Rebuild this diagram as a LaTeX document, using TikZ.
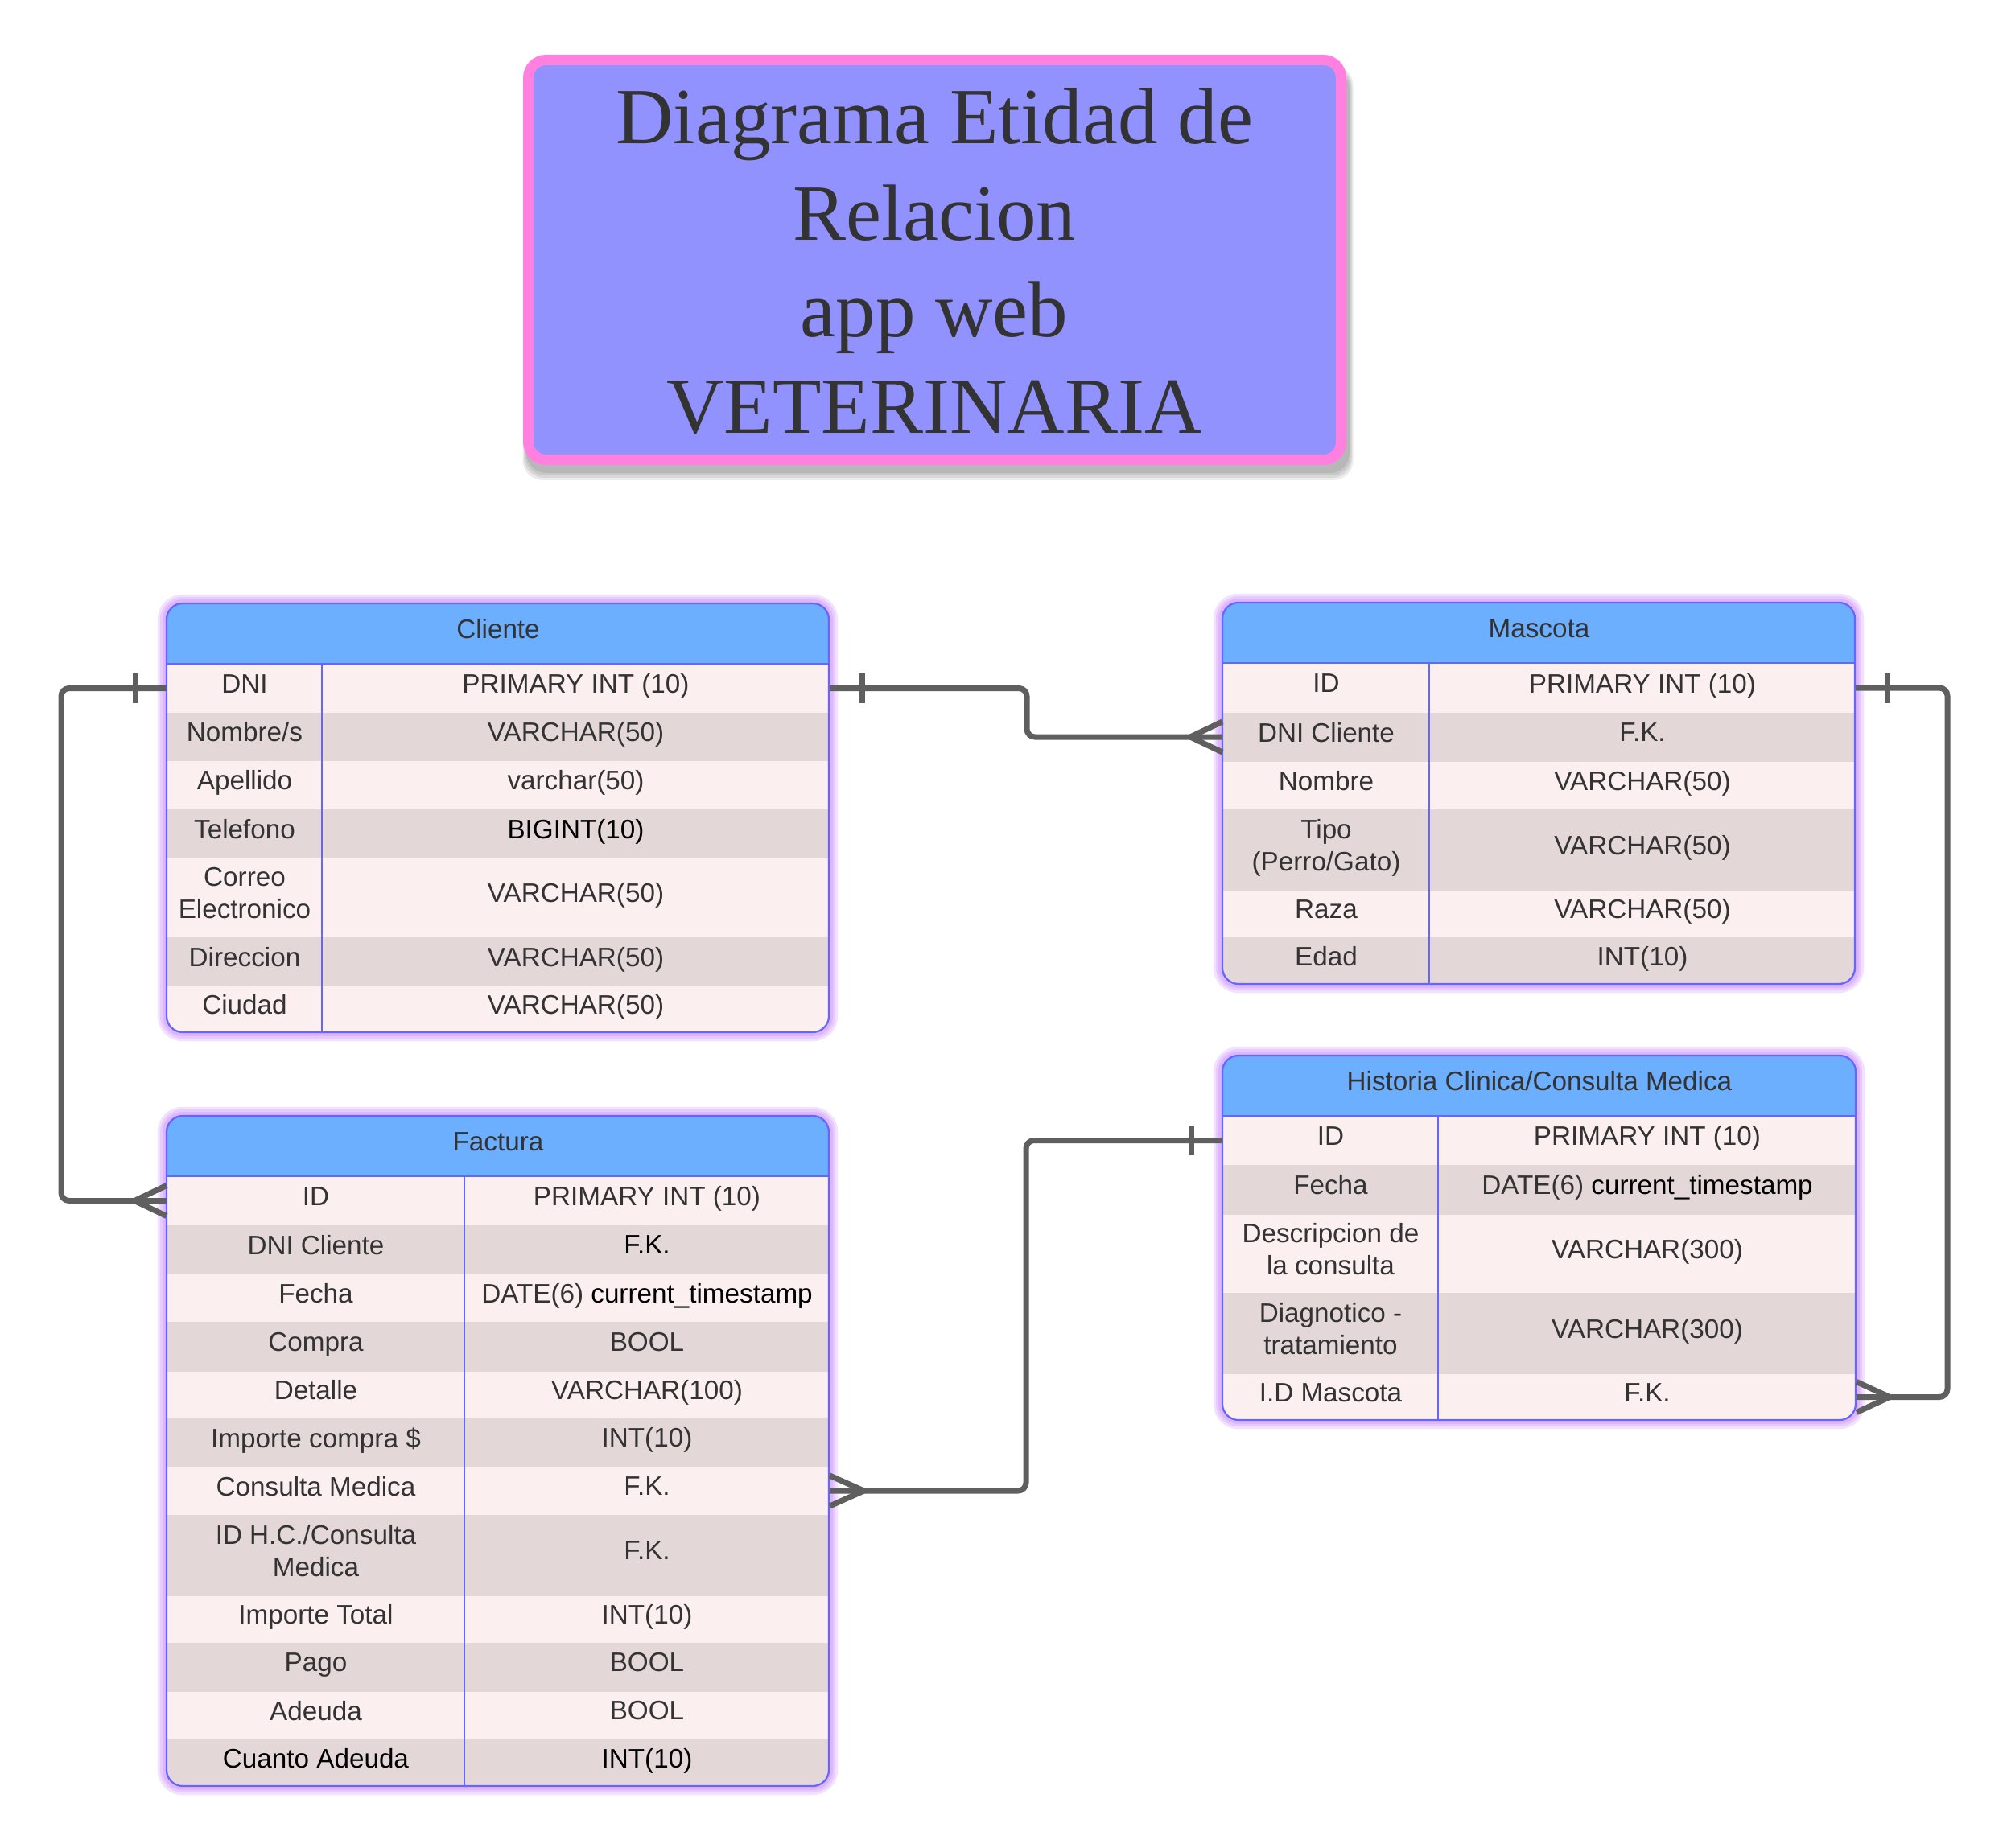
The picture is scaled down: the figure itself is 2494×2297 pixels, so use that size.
\documentclass[tikz,border=0pt]{standalone}
\usepackage{fontspec}
\setmainfont{Liberation Sans}
\newfontfamily\titlefont{Liberation Serif}
\definecolor{hdrblue}{HTML}{6CAFFF}
\definecolor{rowA}{HTML}{FCEFEF}
\definecolor{rowB}{HTML}{E4D7D7}
\definecolor{edgec}{HTML}{6666FF}
\definecolor{glowc}{HTML}{B050FF}
\definecolor{lnk}{HTML}{5F5F5F}
\definecolor{txt}{HTML}{333333}
\definecolor{titlefill}{HTML}{9292FF}
\definecolor{titleedge}{HTML}{FF80DF}
\newcommand{\ertrow}[9]{%
  \node[cell, fill=#7, minimum width={(#3-#2)*0.4pt}, minimum height={(#6-#5)*0.4pt}] (#1L) at (#2,#5) {#8};
  \node[cell, fill=#7, minimum width={(#4-#3)*0.4pt}, minimum height={(#6-#5)*0.4pt}] (#1R) at (#3,#5) {#9};}
\newcommand{\ertglow}[4]{%
  \foreach \w in {9,6.5,4}
    \draw[draw=glowc, opacity=0.16, line width=\w pt, rounded corners=8pt] (#1,#2) rectangle (#3,#4);}
\newcommand{\ertframe}[6]{% xL yT xR yB xC yH
  \draw[tabline] (#5,#6) -- (#5,#4);
  \draw[tabline] (#1,#6) -- (#3,#6);
  \draw[tabline, rounded corners=8pt] (#1,#2) rectangle (#3,#4);}
\newcommand{\crowfoot}[2]{%
  \draw[conn] ([xshift=#2]#1) -- ([yshift=7.6pt]#1)
              ([xshift=#2]#1) -- ([yshift=-7.6pt]#1);}
\newcommand{\onetick}[2]{%
  \draw[conn] ([xshift=#2, yshift=7.4pt]#1) -- ([xshift=#2, yshift=-7.4pt]#1);}
\begin{document}
\begin{tikzpicture}[x=0.4pt, y=-0.4pt,
  cell/.style={anchor=north west, inner sep=0pt, draw=none, align=center, text=txt,
    text depth=4.6pt, font=\fontsize{13.3pt}{16pt}\selectfont},
  hdr/.style={anchor=north west, inner sep=0pt, draw=none, fill=hdrblue, text=txt,
    text depth=5pt, font=\fontsize{13.3pt}{16pt}\selectfont},
  tabline/.style={draw=edgec, line width=0.9pt},
  conn/.style={draw=lnk, line width=2.8pt, rounded corners=4pt},
  titlebox/.style={draw=titleedge, fill=titlefill, line width=5.2pt, rounded corners=8.8pt}]

\useasboundingbox[fill=white] (0,0) rectangle (2494,2297);

% ---------- title ----------
\foreach \g in {0,3,6,9}
  \fill[black, opacity=0.08, rounded corners=10pt] (650+4-\g*0.5,68+18-\g*0.5) rectangle (1673+4+\g*0.5,578+10+\g);
\node[titlebox, minimum width={1010*0.4pt}, minimum height={497*0.4pt}, inner sep=0pt] (titlebg) at (1161.5,323) {};
\node[text=txt, align=center, inner sep=0pt, font=\titlefont\fontsize{39.6pt}{48pt}\selectfont] (title) at (1161,325)
  {Diagrama Etidad de\\Relacion\\app web\\VETERINARIA};

% ---------- Cliente ----------
\ertglow{207}{750}{1030}{1283}
\begin{scope}
\clip[rounded corners=8pt] (207,750) rectangle (1030,1283);
\node[hdr, minimum width={823*0.4pt}, minimum height={75*0.4pt}] (cli) at (207,750) {Cliente};
\ertrow{cli1}{207}{400}{1030}{825}{885}{rowA}{DNI}{PRIMARY INT (10)}
\ertrow{cli2}{207}{400}{1030}{885}{945}{rowB}{Nombre/s}{VARCHAR(50)}
\ertrow{cli3}{207}{400}{1030}{945}{1005}{rowA}{Apellido}{varchar(50)}
\ertrow{cli4}{207}{400}{1030}{1005}{1066}{rowB}{Telefono}{\color{black}BIGINT(10)}
\ertrow{cli5}{207}{400}{1030}{1066}{1164}{rowA}{Correo\\Electronico}{VARCHAR(50)}
\ertrow{cli6}{207}{400}{1030}{1164}{1225}{rowB}{Direccion}{VARCHAR(50)}
\ertrow{cli7}{207}{400}{1030}{1225}{1283}{rowA}{Ciudad}{VARCHAR(50)}
\end{scope}
\ertframe{207}{750}{1030}{1283}{400}{825}

% ---------- Mascota ----------
\ertglow{1519}{749}{2305}{1223}
\begin{scope}
\clip[rounded corners=8pt] (1519,749) rectangle (2305,1223);
\node[hdr, minimum width={786*0.4pt}, minimum height={75*0.4pt}] (mas) at (1519,749) {Mascota};
\ertrow{mas1}{1519}{1776}{2305}{824}{885}{rowA}{ID}{PRIMARY INT (10)}
\ertrow{mas2}{1519}{1776}{2305}{885}{946}{rowB}{DNI Cliente}{F.K.}
\ertrow{mas3}{1519}{1776}{2305}{946}{1005}{rowA}{Nombre}{VARCHAR(50)}
\ertrow{mas4}{1519}{1776}{2305}{1005}{1106}{rowB}{Tipo\\(Perro/Gato)}{VARCHAR(50)}
\ertrow{mas5}{1519}{1776}{2305}{1106}{1164}{rowA}{Raza}{VARCHAR(50)}
\ertrow{mas6}{1519}{1776}{2305}{1164}{1223}{rowB}{Edad}{INT(10)}
\end{scope}
\ertframe{1519}{749}{2305}{1223}{1776}{824}

% ---------- Historia ----------
\ertglow{1519}{1312}{2306}{1765}
\begin{scope}
\clip[rounded corners=8pt] (1519,1312) rectangle (2306,1765);
\node[hdr, minimum width={787*0.4pt}, minimum height={75*0.4pt}] (his) at (1519,1312) {Historia Clinica/Consulta Medica};
\ertrow{his1}{1519}{1787}{2306}{1387}{1447}{rowA}{ID}{PRIMARY INT (10)}
\ertrow{his2}{1519}{1787}{2306}{1447}{1509}{rowB}{Fecha}{DATE(6) {\color{black}current\_timestamp}}
\ertrow{his3}{1519}{1787}{2306}{1509}{1606}{rowA}{Descripcion de\\la consulta}{VARCHAR(300)}
\ertrow{his4}{1519}{1787}{2306}{1606}{1707}{rowB}{Diagnotico -\\tratamiento}{VARCHAR(300)}
\ertrow{his5}{1519}{1787}{2306}{1707}{1765}{rowA}{I.D Mascota}{F.K.}
\end{scope}
\ertframe{1519}{1312}{2306}{1765}{1787}{1387}

% ---------- Factura ----------
\ertglow{207}{1387}{1030}{2220}
\begin{scope}
\clip[rounded corners=8pt] (207,1387) rectangle (1030,2220);
\node[hdr, minimum width={823*0.4pt}, minimum height={75*0.4pt}] (fac) at (207,1387) {Factura};
\ertrow{fac1}{207}{577}{1030}{1462}{1522}{rowA}{ID}{PRIMARY INT (10)}
\ertrow{fac2}{207}{577}{1030}{1522}{1583}{rowB}{DNI Cliente}{\color{black}F.K.}
\ertrow{fac3}{207}{577}{1030}{1583}{1642}{rowA}{Fecha}{DATE(6) {\color{black}current\_timestamp}}
\ertrow{fac4}{207}{577}{1030}{1642}{1704}{rowB}{Compra}{BOOL}
\ertrow{fac5}{207}{577}{1030}{1704}{1761}{rowA}{Detalle}{VARCHAR(100)}
\ertrow{fac6}{207}{577}{1030}{1761}{1823}{rowB}{Importe compra \$}{INT(10)}
\ertrow{fac7}{207}{577}{1030}{1823}{1882}{rowA}{Consulta Medica}{F.K.}
\ertrow{fac8}{207}{577}{1030}{1882}{1983}{rowB}{ID H.C./Consulta\\Medica}{F.K.}
\ertrow{fac9}{207}{577}{1030}{1983}{2041}{rowA}{Importe Total}{INT(10)}
\ertrow{fac10}{207}{577}{1030}{2041}{2102}{rowB}{Pago}{BOOL}
\ertrow{fac11}{207}{577}{1030}{2102}{2161}{rowA}{Adeuda}{BOOL}
\ertrow{fac12}{207}{577}{1030}{2161}{2220}{rowB}{\color{black}Cuanto Adeuda}{\color{black}INT(10)}
\end{scope}
\ertframe{207}{1387}{1030}{2220}{577}{1462}

% ---------- connectors ----------
% Cliente.DNI -> Factura.ID (left loop)
\draw[conn] (cli1L.west) -- ++(-131,0) |- (fac1L.west);
\onetick{cli1L.west}{-15.6pt}
\crowfoot{fac1L.west}{-16pt}
% Cliente.DNI -> Mascota.DNI Cliente
\draw[conn] (cli1R.east) -- ++(245,0) |- (mas2L.west);
\onetick{cli1R.east}{16pt}
\crowfoot{mas2L.west}{-16pt}
% Historia.ID -> Factura.Consulta Medica
\draw[conn] (his1L.west) -- ++(-244,0) |- (fac7R.east);
\onetick{his1L.west}{-15.6pt}
\crowfoot{fac7R.east}{17pt}
% Mascota.ID -> Historia.I.D Mascota (right loop)
\draw[conn] (mas1R.east) -- ++(114,0) |- (his5R.east);
\onetick{mas1R.east}{15.6pt}
\crowfoot{his5R.east}{16.5pt}
\end{tikzpicture}
\end{document}
